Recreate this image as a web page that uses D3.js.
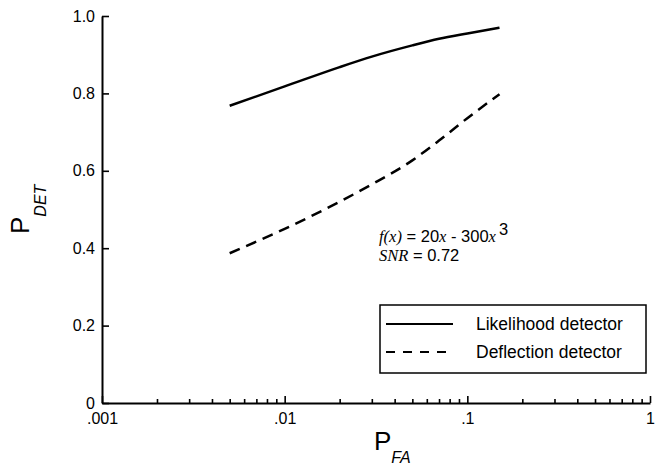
<!DOCTYPE html>
<html>
    <head>
        <script src="https://cdn.jsdelivr.net/npm/d3@7"></script>
        <style>
            body { margin: 0; background: #fff; }
            text { font-family: "Liberation Sans", Arial, sans-serif; fill: #000; }
        </style>
    </head>
    <body>
        <svg id="chart" width="664" height="475"></svg>
        <script>
            // Data
            var pfa = [0.005, 0.01, 0.02, 0.03, 0.05, 0.07, 0.1, 0.15];
            var likelihood = [0.768, 0.818, 0.868, 0.895, 0.924, 0.941, 0.955, 0.970];
            var deflection = [0.387, 0.450, 0.520, 0.565, 0.627, 0.678, 0.736, 0.798];
            var xMajor = [0.001, 0.01, 0.1, 1];
            var xMajorLabels = [".001", ".01", ".1", "1"];
            var yTicks = [0, 0.2, 0.4, 0.6, 0.8, 1.0];
            var yTickLabels = ["0", "0.2", "0.4", "0.6", "0.8", "1.0"];
            var legendNames = ["Likelihood detector", "Deflection detector"];

            var svg = d3.select("svg#chart");

            var x = d3.scaleLog().domain([0.001, 1]).range([102, 650]);
            var y = d3.scaleLinear().domain([0, 1]).range([403, 16]);

            // minor ticks 2..9 in every decade
            var xMinor = [];
            [0.001, 0.01, 0.1].forEach(function(d) {
                for (var k = 2; k <= 9; k++) xMinor.push(d * k);
            });

            // X axis
            svg.append("g").attr("transform", "translate(0," + y(0) + ")")
                .call(d3.axisBottom(x).tickValues(xMajor).tickSize(-7).tickSizeOuter(0).tickPadding(10)
                    .tickFormat(function(d, i) { return xMajorLabels[i]; }));
            svg.append("g").attr("transform", "translate(0," + y(0) + ")")
                .call(d3.axisBottom(x).tickValues(xMinor).tickSize(-4).tickSizeOuter(0).tickFormat(""))
                .select(".domain").remove();

            // Y axis
            svg.append("g").attr("transform", "translate(" + x(0.001) + ",0)")
                .call(d3.axisLeft(y).tickValues(yTicks).tickSize(-7).tickSizeOuter(0).tickPadding(7)
                    .tickFormat(function(d, i) { return yTickLabels[i]; }));

            svg.selectAll(".domain").attr("stroke", "#000").attr("stroke-width", 2);
            svg.selectAll(".tick line").attr("stroke", "#000").attr("stroke-width", 1.6);
            svg.selectAll(".tick text").style("font-size", "16px").attr("fill", "#000");

            // Axis titles
            var xt = svg.append("text").attr("x", 374).attr("y", 450).style("font-size", "26px");
            xt.append("tspan").text("P");
            xt.append("tspan").attr("dy", 13).style("font-size", "16px").style("font-style", "italic").text("FA");

            var yt = svg.append("text").attr("transform", "translate(29,234) rotate(-90)").style("font-size", "26px");
            yt.append("tspan").text("P");
            yt.append("tspan").attr("dy", 17).style("font-size", "16px").style("font-style", "italic").text("DET");

            // Curves
            var line = d3.line()
                .x(function(d) { return x(d[0]); })
                .y(function(d) { return y(d[1]); })
                .curve(d3.curveMonotoneX);

            svg.append("path").datum(d3.zip(pfa, likelihood))
                .attr("fill", "none").attr("stroke", "#000").attr("stroke-width", 2.5)
                .attr("d", line);
            svg.append("path").datum(d3.zip(pfa, deflection))
                .attr("fill", "none").attr("stroke", "#000").attr("stroke-width", 2.5)
                .attr("stroke-dasharray", "11,7")
                .attr("d", line);

            // Annotation
            var serif = '"Liberation Serif", "Times New Roman", serif';
            var a1 = svg.append("text").attr("x", 379).attr("y", 242).style("font-size", "16.5px");
            a1.append("tspan").style("font-family", serif).style("font-style", "italic").text("f(x)");
            a1.append("tspan").text(" = 20");
            a1.append("tspan").style("font-family", serif).style("font-style", "italic").text("x");
            a1.append("tspan").text(" - 300");
            a1.append("tspan").style("font-family", serif).style("font-style", "italic").text("x");
            a1.append("tspan").attr("dy", -7).attr("dx", 3).text("3");
            var a2 = svg.append("text").attr("x", 379).attr("y", 261).style("font-size", "16.5px");
            a2.append("tspan").style("font-family", serif).style("font-style", "italic").text("SNR");
            a2.append("tspan").text(" = 0.72");

            // Legend
            var lg = svg.append("g");
            lg.append("rect").attr("x", 380).attr("y", 305).attr("width", 266).attr("height", 68)
                .attr("fill", "#fff").attr("stroke", "#000").attr("stroke-width", 1.5);
            legendNames.forEach(function(name, i) {
                var ly = 324 + i * 28;
                lg.append("line").attr("x1", 386).attr("x2", 453).attr("y1", ly).attr("y2", ly)
                    .attr("stroke", "#000").attr("stroke-width", 2)
                    .attr("stroke-dasharray", i == 1 ? "9,8" : null);
                lg.append("text").attr("x", 476).attr("y", ly + 6).style("font-size", "17.5px").text(name);
            });
        </script>
    </body>
</html>
